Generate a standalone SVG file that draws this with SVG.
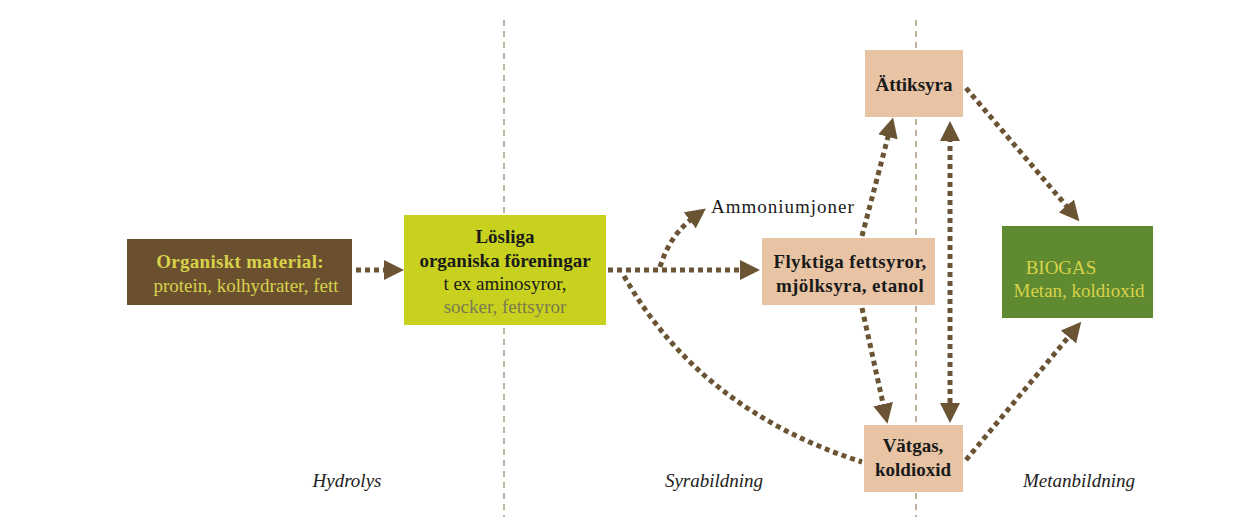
<svg xmlns="http://www.w3.org/2000/svg" width="1243" height="517" viewBox="0 0 1243 517">
<style>
text{font-family:"Liberation Serif",serif;text-anchor:middle;font-size:19px}
.b{font-weight:bold;fill:#1a1a1a}
.y{fill:#d8d24a}
.yb{font-weight:bold;fill:#d8d24a}
.ph{font-style:italic;fill:#222}
.sep{stroke:#a89a80;stroke-width:1.5;stroke-dasharray:6,5;fill:none}
.c{stroke:#6b5433;stroke-width:5;stroke-dasharray:5,4;fill:none}
</style>
<defs>
<marker id="ah" viewBox="0 0 10 10" refX="2" refY="5" markerWidth="4" markerHeight="4" orient="auto-start-reverse" markerUnits="strokeWidth">
<path d="M0,0 L10,5 L0,10 z" fill="#6b5433"/>
</marker>
</defs>
<rect width="1243" height="517" fill="#fff"/>
<line class="sep" x1="504" y1="20" x2="504" y2="517"/>
<line class="sep" x1="916" y1="20" x2="916" y2="517"/>
<g id="n1"><rect x="127" y="239" width="225" height="66" fill="#6b5030"/>
<text class="yb" x="240" y="268" letter-spacing="0.3">Organiskt material:</text>
<text class="y" x="246" y="292">protein, kolhydrater, fett</text></g>
<g id="n2"><rect x="404" y="215" width="202" height="110" fill="#c8d21e"/>
<text class="b" x="505" y="243">Lösliga</text>
<text class="b" x="505" y="267">organiska föreningar</text>
<text x="505" y="290" fill="#1a1a1a">t ex aminosyror,</text>
<text x="505" y="313" fill="#7a7a50">socker, fettsyror</text></g>
<g id="n3"><rect x="762" y="238" width="173" height="67" fill="#e8c4a4"/>
<text class="b" x="850" y="268" letter-spacing="0.4">Flyktiga fettsyror,</text>
<text class="b" x="850" y="292" letter-spacing="0.4">mjölksyra, etanol</text></g>
<g id="n4"><rect x="865" y="50" width="98" height="67" fill="#e8c4a4"/>
<text class="b" x="914" y="91">Ättiksyra</text></g>
<g id="n5"><rect x="864" y="425" width="99" height="67" fill="#e8c4a4"/>
<text class="b" x="913" y="452">Vätgas,</text>
<text class="b" x="913" y="476">koldioxid</text></g>
<g id="n6"><rect x="1002" y="226" width="151" height="92" fill="#5f8a30"/>
<text class="y" x="1061" y="274">BIOGAS</text>
<text class="y" x="1079" y="297">Metan, koldioxid</text></g>
<text x="711" y="213" fill="#1a1a1a" letter-spacing="1" style="text-anchor:start">Ammoniumjoner</text>
<text class="ph" x="347" y="487">Hydrolys</text>
<text class="ph" x="714" y="487">Syrabildning</text>
<text class="ph" x="1079" y="487">Metanbildning</text>
<g id="connectors">
<path class="c" d="M356,270 L388,270" marker-end="url(#ah)"/>
<path class="c" d="M608,270 L744,270" marker-end="url(#ah)"/>
<path class="c" d="M660,267 Q670,235 693,218" marker-end="url(#ah)"/>
<path class="c" d="M624,276 Q700,410 862,462"/>
<path class="c" d="M862,236 L889,133" marker-end="url(#ah)"/>
<path class="c" d="M862,308 L884,408" marker-end="url(#ah)"/>
<path class="c" d="M950,137 L950,407" marker-start="url(#ah)" marker-end="url(#ah)"/>
<path class="c" d="M966,88 L1069,209" marker-end="url(#ah)"/>
<path class="c" d="M966,460 L1071,334" marker-end="url(#ah)"/>
</g>
</svg>
